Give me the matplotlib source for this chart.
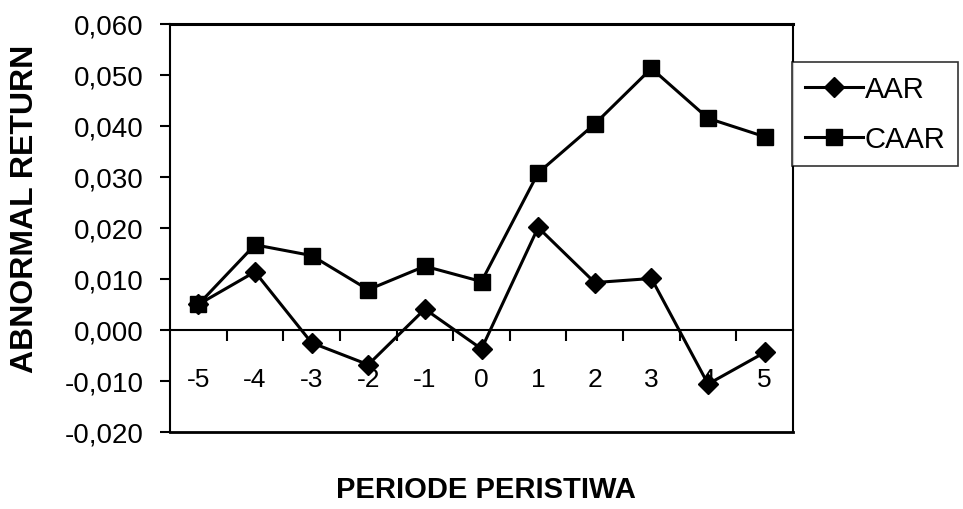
import matplotlib
matplotlib.use("Agg")
from matplotlib import pyplot as plt
from matplotlib.ticker import FuncFormatter, FixedLocator
import numpy as np

periods = [-5, -4, -3, -2, -1, 0, 1, 2, 3, 4, 5]
aar = [0.0050, 0.0114, -0.0025, -0.0068, 0.0041, -0.0037, 0.0201, 0.0093, 0.0101, -0.0106, -0.0044]
caar = [0.0050, 0.0167, 0.0146, 0.0079, 0.0125, 0.0095, 0.0308, 0.0404, 0.0513, 0.0415, 0.0379]

plt.rcParams['font.family'] = ['Liberation Sans', 'DejaVu Sans']

fig = plt.figure(figsize=(9.63, 5.10), dpi=100)
ax = fig.add_axes([0.1765, 0.151, 0.647, 0.800])

x = np.arange(len(periods))
ax.plot(x, aar, color="black", lw=2.2, marker="D", markersize=10, label="AAR")
ax.plot(x, caar, color="black", lw=2.2, marker="s", markersize=11, label="CAAR")

ax.set_xlim(-0.5, len(periods) - 0.5)
ax.set_ylim(-0.020, 0.060)
ax.set_yticks(np.arange(-0.020, 0.0601, 0.010))
ax.yaxis.set_major_formatter(FuncFormatter(lambda v, p: f"{v:.3f}".replace(".", ",")))
ax.tick_params(axis="y", direction="out", length=7, width=1.5, labelsize=20, pad=12)

# x axis sits on the zero line, ticks between categories
ax.spines["bottom"].set_position(("data", 0))
ax.set_xticks(x)
ax.set_xticklabels([str(p) for p in periods])
ax.xaxis.set_minor_locator(FixedLocator(np.arange(0.5, len(periods) - 1, 1.0)))
ax.tick_params(axis="x", which="major", length=0, labelsize=19, pad=27)
ax.tick_params(axis="x", which="minor", direction="out", length=8, width=1.5)
ax.axhline(-0.020, color="black", lw=2, clip_on=False)

for s in ["left", "top", "right", "bottom"]:
    ax.spines[s].set_linewidth(1.5)
ax.spines["top"].set_linewidth(2.2)

fig.text(0.026, 0.59, "ABNORMAL RETURN", rotation=90, ha="center", va="center",
         fontsize=23, fontweight="bold")
fig.text(0.505, 0.039, "PERIODE PERISTIWA", ha="center", va="center",
         fontsize=21, fontweight="bold")

leg = fig.legend(loc="upper left", bbox_to_anchor=(0.822, 0.8765), bbox_transform=fig.transFigure,
                 fontsize=21, frameon=True, fancybox=False, edgecolor="black",
                 handlelength=2.0, handletextpad=0.05, borderpad=0.45, labelspacing=0.75,
                 borderaxespad=0)
leg.get_frame().set_linewidth(1.2)

fig.savefig("out.png", dpi=100)
